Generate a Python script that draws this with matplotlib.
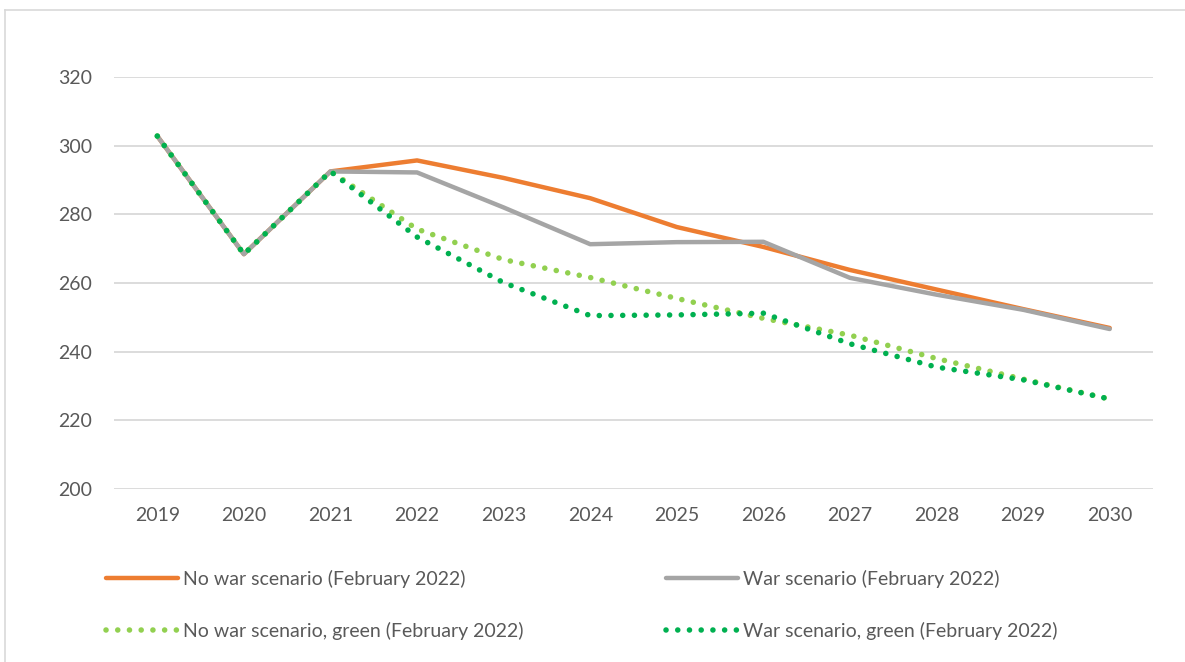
import matplotlib
matplotlib.use('Agg')
import matplotlib.pyplot as plt
from matplotlib.lines import Line2D

plt.rcParams['font.family'] = ['Lato', 'DejaVu Sans']

years = [2019, 2020, 2021, 2022, 2023, 2024, 2025, 2026, 2027, 2028, 2029, 2030]
no_war = [302.8, 268.4, 292.5, 295.7, 290.6, 284.7, 276.3, 270.5, 263.8, 258.1, 252.4, 246.9]
war = [302.8, 268.4, 292.5, 292.2, 282.0, 271.3, 271.9, 272.0, 261.5, 256.6, 252.2, 246.6]
no_war_green = [302.8, 268.4, 292.5, 275.7, 266.8, 261.6, 255.5, 249.7, 244.8, 238.0, 232.0, 226.2]
war_green = [302.8, 268.4, 292.5, 273.4, 260.1, 250.5, 250.7, 251.2, 242.3, 235.5, 231.8, 226.2]

labels = ['No war scenario (February 2022)', 'War scenario (February 2022)',
          'No war scenario, green (February 2022)', 'War scenario, green (February 2022)']
yticks = [200, 220, 240, 260, 280, 300, 320]

ORANGE = '#ED7D31'
GREY = '#A5A5A5'
LGREEN = '#92D050'
DGREEN = '#00B050'
TEXT = '#595959'
GRID = '#D9D9D9'

fig = plt.figure(figsize=(11.85, 6.62), dpi=100)
ax = fig.add_axes([114 / 1185, 1 - 489 / 662, (1153 - 114) / 1185, (489 - 77) / 662])

dot = (0, (0.01, 2.1))
l1, = ax.plot(years, no_war, color=ORANGE, lw=3.2, solid_capstyle='round', zorder=3)
l2, = ax.plot(years, war, color=GREY, lw=3.2, solid_capstyle='round', zorder=4)
l3, = ax.plot(years, no_war_green, color=LGREEN, lw=4.0, linestyle=dot,
              dash_capstyle='round', zorder=5)
l4, = ax.plot(years, war_green, color=DGREEN, lw=4.0, linestyle=dot,
              dash_capstyle='round', zorder=6)

ax.set_xlim(2018.5, 2030.5)
ax.set_ylim(200, 320)
ax.set_xticks(years)
ax.set_yticks(yticks)
ax.grid(axis='y', color=GRID, lw=1.3)
ax.set_axisbelow(True)
for s in ax.spines.values():
    s.set_visible(False)
ax.tick_params(axis='both', length=0, labelsize=14, labelcolor=TEXT)
ax.tick_params(axis='y', pad=16)
ax.tick_params(axis='x', pad=13)

# figure frame (left and top edges visible)
fig.add_artist(Line2D([4.5 / 1185, 4.5 / 1185], [0, 1 - 9.5 / 662],
                      transform=fig.transFigure, color=GRID, lw=1.2))
fig.add_artist(Line2D([4.5 / 1185, 1], [1 - 9.5 / 662, 1 - 9.5 / 662],
                      transform=fig.transFigure, color=GRID, lw=1.2))

leg_kw = dict(frameon=False, fontsize=14, handlelength=3.7, handletextpad=0.25,
              labelspacing=1.75, labelcolor=TEXT, borderaxespad=0, borderpad=0)
fig.legend([l1, l3], [labels[0], labels[2]], loc='upper left',
           bbox_to_anchor=(106 / 1185, 1 - 570 / 662), **leg_kw)
fig.legend([l2, l4], [labels[1], labels[3]], loc='upper left',
           bbox_to_anchor=(666 / 1185, 1 - 570 / 662), **leg_kw)

fig.savefig('out.png', dpi=100)
